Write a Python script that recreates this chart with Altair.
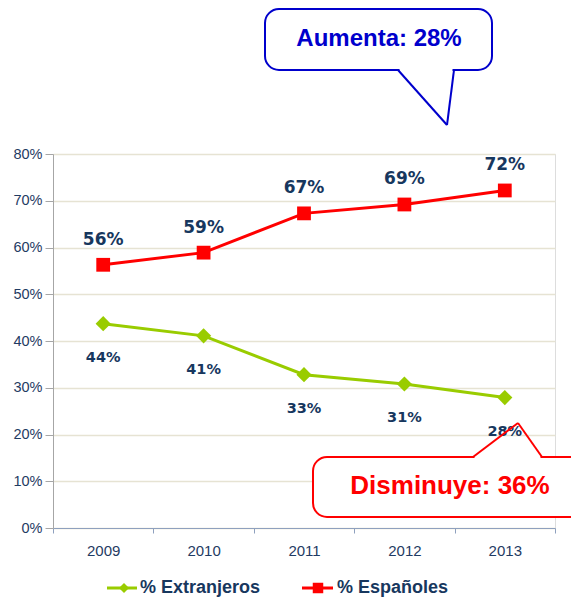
import altair as alt
import pandas as pd

# ---- data ----
years = ["2009", "2010", "2011", "2012", "2013"]
espanoles = [0.563, 0.589, 0.673, 0.692, 0.722]
extranjeros = [0.437, 0.411, 0.328, 0.308, 0.279]
series_names = ["% Extranjeros", "% Españoles"]
callout_up = "Aumenta: 28%"
callout_down = "Disminuye: 36%"

GREEN = "#99CC00"
RED = "#FF0000"
NAVY = "#17375E"
AXIS_TXT = "#1F3B63"

rows = []
for y, v in zip(years, extranjeros):
    rows.append({"year": y, "series": series_names[0], "value": v})
for y, v in zip(years, espanoles):
    rows.append({"year": y, "series": series_names[1], "value": v})
df = pd.DataFrame(rows)
one = pd.DataFrame({"a": [0]})

x_enc = alt.X(
    "year:O",
    bandPosition=0.5,
    scale=alt.Scale(type="band", paddingInner=0, paddingOuter=0),
    axis=alt.Axis(
        title=None, labelAngle=0, tickBand="extent", tickSize=5,
        labelPadding=10, labelFontSize=15, labelFont="Liberation Sans",
        labelColor=AXIS_TXT, domainColor="#8EA0BE", tickColor="#8EA0BE",
        grid=False,
    ),
)
y_enc = alt.Y(
    "value:Q",
    scale=alt.Scale(domain=[0, 0.8], nice=False),
    axis=alt.Axis(
        title=None, format=".0%", values=[0, 0.1, 0.2, 0.3, 0.4, 0.5, 0.6, 0.7, 0.8],
        tickSize=8, labelPadding=3, labelFontSize=14.5, labelFont="Liberation Sans",
        labelColor=AXIS_TXT, domainColor="#A6A6A6", tickColor="#A6A6A6",
        grid=True, gridColor="#E6E3D3", gridWidth=1.5,
    ),
)
color_enc = alt.Color("series:N", scale=alt.Scale(domain=series_names, range=[GREEN, RED]), legend=None)
shape_enc = alt.Shape("series:N", scale=alt.Scale(domain=series_names, range=["diamond", "square"]), legend=None)
size_enc = alt.Size("series:N", scale=alt.Scale(domain=series_names, range=[230, 190]), legend=None)

base = alt.Chart(df)
lines = base.mark_line(strokeWidth=3).encode(x=x_enc, y=y_enc, color=color_enc, detail="series:N")
points = base.mark_point(filled=True, opacity=1).encode(
    x=x_enc, y=y_enc, color=color_enc, shape=shape_enc, size=size_enc
)
lab_esp = base.transform_filter(alt.datum.series == series_names[1]).mark_text(
    dy=-25, font="DejaVu Sans", fontWeight="bold", fontSize=17, color=NAVY
).encode(x=x_enc, y=y_enc, text=alt.Text("value:Q", format=".0%"))
lab_ext = base.transform_filter(alt.datum.series == series_names[0]).mark_text(
    dy=34, font="DejaVu Sans", fontWeight="bold", fontSize=14.5, color=NAVY
).encode(x=x_enc, y=y_enc, text=alt.Text("value:Q", format=".0%"))

ann = alt.Chart(one)


def callout(x1, x2, y1, y2, tail, color, text, tx, ty, fs):
    box = ann.mark_rect(fill="white", stroke=color, strokeWidth=2, cornerRadius=14).encode(
        x=alt.value(x1), x2=alt.value(x2), y=alt.value(y1), y2=alt.value(y2)
    )
    (ax, ay), (bx, by), (cx, cy) = tail
    cover = ann.mark_rule(color="white", strokeWidth=4).encode(
        x=alt.value(ax + 1.5), x2=alt.value(cx - 1.5), y=alt.value(ay), y2=alt.value(cy)
    )
    t1 = ann.mark_rule(color=color, strokeWidth=2).encode(
        x=alt.value(ax), x2=alt.value(bx), y=alt.value(ay), y2=alt.value(by)
    )
    t2 = ann.mark_rule(color=color, strokeWidth=2).encode(
        x=alt.value(bx), x2=alt.value(cx), y=alt.value(by), y2=alt.value(cy)
    )
    txt = ann.mark_text(
        font="Liberation Sans", fontWeight="bold", fontSize=fs, color=color, baseline="middle"
    ).encode(x=alt.value(tx), y=alt.value(ty), text=alt.value(text))
    return [box, cover, t1, t2, txt]


blue = callout(212, 439, -145, -84, [(345, -84), (394, -29), (401, -84)],
               "#0000CC", callout_up, 326, -115, 24)
red = callout(260, 560, 303, 363, [(420, 303), (465, 269), (489, 303)],
              RED, callout_down, 397, 332, 26)

# manual legend
LY = 434
leg = [
    ann.mark_rule(color=GREEN, strokeWidth=3).encode(x=alt.value(54), x2=alt.value(84), y=alt.value(LY)),
    ann.mark_point(shape="diamond", filled=True, opacity=1, size=100, color=GREEN).encode(
        x=alt.value(71), y=alt.value(LY)),
    ann.mark_text(align="left", baseline="middle", font="Liberation Sans", fontWeight="bold",
                  fontSize=18, color=NAVY).encode(x=alt.value(87), y=alt.value(LY), text=alt.value(series_names[0])),
    ann.mark_rule(color=RED, strokeWidth=3).encode(x=alt.value(249), x2=alt.value(280), y=alt.value(LY)),
    ann.mark_point(shape="square", filled=True, opacity=1, size=110, color=RED).encode(
        x=alt.value(265), y=alt.value(LY)),
    ann.mark_text(align="left", baseline="middle", font="Liberation Sans", fontWeight="bold",
                  fontSize=18, color=NAVY).encode(x=alt.value(284), y=alt.value(LY), text=alt.value(series_names[1])),
]

chart = alt.layer(lines, points, lab_esp, lab_ext, *blue, *red, *leg).properties(
    width=502, height=374,
    autosize=alt.AutoSizeParams(type="none"),
    padding={"left": 45, "top": 146, "right": 16, "bottom": 76},
).configure_view(stroke=None).configure(background="white")

chart.save("out.html", embed_options={"renderer": "svg", "actions": False})
